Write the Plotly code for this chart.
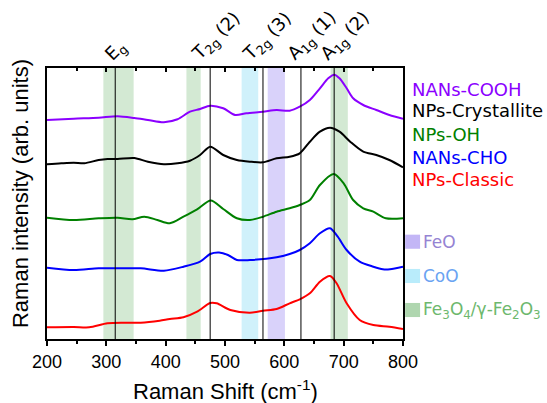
import plotly.graph_objects as go

# ---- data (Raman shift in cm^-1, intensity in arb. units, offsets included) ----
x_cooh = [200, 245, 287, 319, 347, 370, 397, 420, 441, 458, 475, 497, 517, 536, 564, 587, 609, 626, 643, 660, 674, 684, 693, 705, 716, 733, 755, 777, 800]
y_cooh = [219, 220.3, 221.3, 222.7, 221, 219, 216.7, 219.7, 227.3, 230, 233.3, 230.7, 224, 225.7, 227.3, 229, 228.3, 232.3, 239, 250.7, 260.7, 264.3, 260.7, 250.7, 240.7, 234, 229, 224, 220.3]

x_cryst = [200, 224, 245, 263, 287, 302, 319, 347, 370, 397, 420, 441, 458, 475, 497, 520, 542, 564, 587, 609, 626, 643, 660, 677, 693, 711, 733, 755, 777, 800]
y_cryst = [174.7, 175.7, 176.3, 175.7, 179, 180, 180, 181, 177.3, 174.7, 175.7, 178.3, 184, 192.3, 184, 179, 177.3, 176.7, 180.7, 182.3, 185.7, 197.3, 207.3, 211.3, 207.3, 197.3, 187.3, 184, 179, 171.7]

x_oh = [200, 245, 287, 319, 344, 364, 386, 407, 430, 453, 476, 497, 520, 542, 564, 587, 609, 626, 643, 660, 683, 700, 716, 733, 750, 771, 800]
y_oh = [121.3, 119, 120.7, 121.3, 119.7, 122.3, 119, 115.7, 122.3, 129.7, 138.5, 130, 120.7, 119, 122.3, 127.3, 130.7, 134, 139, 154, 165, 155.7, 139, 130.7, 127.3, 120.7, 120.7]

x_cho = [200, 245, 287, 319, 358, 397, 430, 458, 475, 490, 505, 520, 542, 587, 609, 626, 643, 660, 677, 690, 705, 727, 750, 766, 778, 800]
y_cho = [71.3, 69, 70.7, 70.7, 70.7, 68.3, 72.3, 77.3, 85, 86.5, 84, 79, 79, 81.7, 85, 89, 95.7, 105.7, 110.7, 102.3, 89, 77.3, 72.3, 69.7, 69.7, 72.3]

x_classic = [200, 245, 271, 302, 330, 358, 390, 407, 430, 453, 475, 486, 509, 542, 564, 587, 609, 626, 643, 660, 677, 688, 705, 727, 750, 777, 800]
y_classic = [11.7, 12, 11.7, 15.7, 16.3, 16.3, 18.3, 20, 21.7, 27.3, 36, 35.7, 29, 26.3, 28.3, 30, 35.7, 39.7, 45.7, 57.3, 63, 55.7, 35.7, 19, 14, 12.3, 10]

series_names = ["NANs-COOH", "NPs-Crystallite", "NPs-OH", "NANs-CHO", "NPs-Classic"]
series_colors = ["#8b00ff", "#000000", "#008000", "#0000ff", "#ff0000"]

# reference bands (cm^-1): start, end, phase
band_start = [295, 435, 528, 572, 678]
band_end = [346, 459, 556, 601, 707]
band_phase = ["Fe3O4", "Fe3O4", "CoO", "FeO", "Fe3O4"]

# mode lines and labels
peak_pos = [315, 475, 564, 628, 684]
peak_labels = ["E<sub>g</sub>", "T<sub>2g</sub> (2)", "T<sub>2g</sub> (3)", "A<sub>1g</sub> (1)", "A<sub>1g</sub> (2)"]
peak_label_x = [316, 485, 572, 648, 704]

phase_names = ["FeO", "CoO", "Fe<sub>3</sub>O<sub>4</sub>/γ-Fe<sub>2</sub>O<sub>3</sub>"]
phase_keys = ["FeO", "CoO", "Fe3O4"]
phase_fill = {"FeO": "#d9d2fa", "CoO": "#d0f1fb", "Fe3O4": "#d3e9d3"}
phase_patch = {"FeO": "#c3b6f6", "CoO": "#b9ecfb", "Fe3O4": "#afd6af"}
phase_text = {"FeO": "#9583d3", "CoO": "#6aa3f2", "Fe3O4": "#6db86d"}

fig = go.Figure()

xs = [x_cooh, x_cryst, x_oh, x_cho, x_classic]
ys = [y_cooh, y_cryst, y_oh, y_cho, y_classic]
for xv, yv, nm, col in zip(xs, ys, series_names, series_colors):
    fig.add_trace(go.Scatter(x=xv, y=yv, mode="lines", name=nm,
                             line=dict(color=col, width=2, shape="spline", smoothing=0.8),
                             showlegend=False))

# dummy trace for the top axis
fig.add_trace(go.Scatter(x=[200, 800], y=[0, 0], xaxis="x2", mode="lines",
                         line=dict(width=0), hoverinfo="skip", showlegend=False))

shapes = []
for s, e, ph in zip(band_start, band_end, band_phase):
    shapes.append(dict(type="rect", xref="x", yref="paper", x0=s, x1=e, y0=0, y1=1,
                       fillcolor=phase_fill[ph], line=dict(width=0), layer="below"))
for p in peak_pos:
    shapes.append(dict(type="line", xref="x", yref="paper", x0=p, x1=p, y0=0, y1=1,
                       line=dict(color="black", width=1), layer="above"))

annotations = []
for lx, lab in zip(peak_label_x, peak_labels):
    annotations.append(dict(x=lx, y=1, xref="x", yref="paper", text=lab, showarrow=False,
                            textangle=-45, xanchor="center", yanchor="bottom", yshift=-1,
                            font=dict(family="DejaVu Sans", size=18, color="black")))

legend_y = [0.921, 0.845, 0.753, 0.670, 0.587]
for nm, col, ly in zip(series_names, series_colors, legend_y):
    annotations.append(dict(x=1.0197, y=ly, xref="paper", yref="paper", text=nm, showarrow=False,
                            xanchor="left", yanchor="middle",
                            font=dict(family="DejaVu Sans", size=18, color=col)))

phase_y = [0.359, 0.2325, 0.107]
for key, nm, py in zip(phase_keys, phase_names, phase_y):
    shapes.append(dict(type="rect", xref="paper", yref="paper", x0=1.006, x1=1.048,
                       y0=py - 0.026, y1=py + 0.026, fillcolor=phase_patch[key], line=dict(width=0)))
    annotations.append(dict(x=1.051, y=py, xref="paper", yref="paper", text=nm, showarrow=False,
                            xanchor="left", yanchor="middle",
                            font=dict(family="DejaVu Sans", size=17, color=phase_text[key])))

annotations.append(dict(x=-0.0758, y=0.535, xref="paper", yref="paper",
                        text="Raman intensity (arb. units)", showarrow=False, textangle=-90,
                        xanchor="center", yanchor="middle",
                        font=dict(family="Liberation Sans", size=22, color="black")))
annotations.append(dict(x=0.5, y=-0.187, xref="paper", yref="paper",
                        text="Raman Shift (cm<sup>-1</sup>)", showarrow=False,
                        xanchor="center", yanchor="middle",
                        font=dict(family="Liberation Sans", size=22, color="black")))

fig.update_layout(
    width=547, height=403,
    margin=dict(l=47, r=144, t=68, b=64, pad=0),
    plot_bgcolor="white", paper_bgcolor="white",
    shapes=shapes, annotations=annotations,
    xaxis=dict(range=[200, 800], showline=True, linecolor="black", linewidth=2, mirror=True,
               ticks="outside", ticklen=5, tickwidth=1.5, tickcolor="black",
               dtick=100, tick0=200, showgrid=False, zeroline=False,
               minor=dict(ticks="outside", ticklen=3, dtick=50, tick0=200, tickcolor="black", tickwidth=1.5),
               tickfont=dict(family="Liberation Sans", size=18, color="black")),
    xaxis2=dict(range=[200, 800], overlaying="x", side="top", showline=False,
                ticks="inside", ticklen=4, tickwidth=1.5, tickcolor="black",
                dtick=100, tick0=200, showticklabels=False, showgrid=False, zeroline=False,
                minor=dict(ticks="inside", ticklen=3, dtick=50, tick0=200, tickcolor="black", tickwidth=1.5)),
    yaxis=dict(range=[0, 271], showline=True, linecolor="black", linewidth=2, mirror=True,
               showticklabels=False, ticks="", showgrid=False, zeroline=False),
)

# remove the default page margin so the 547x403 figure fills the window exactly
fig.write_html("out.html", config={"displayModeBar": False},
               post_script="document.body.style.margin='0';document.body.style.overflow='hidden';")
